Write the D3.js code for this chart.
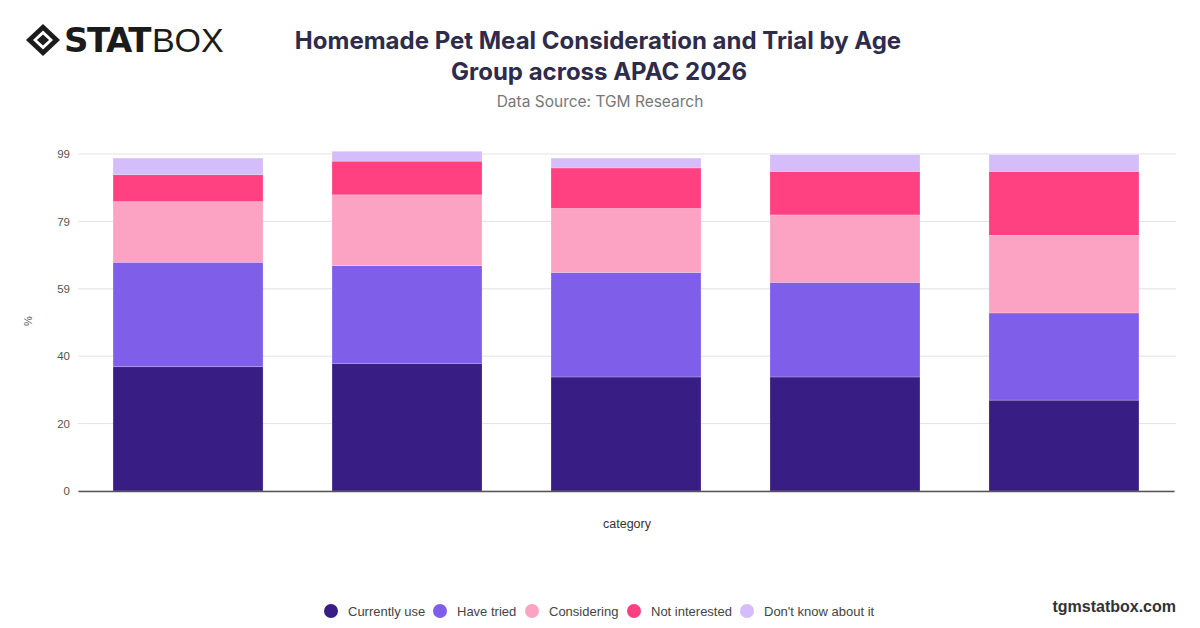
<!DOCTYPE html>
<html>
<head>
<meta charset="utf-8">
<script src="https://cdn.jsdelivr.net/npm/d3@7"></script>
<style>
  body { margin: 0; background: #fff; }
  svg { display: block; font-family: Inter, "Noto Sans", sans-serif; }
</style>
</head>
<body>
<div id="container"></div>
<script>
// Chart data
var categories = ["g1", "g2", "g3", "g4", "g5"];
var seriesNames = ["Currently use", "Have tried", "Considering", "Not interested", "Don't know about it"];
var currentlyUse  = [36.5, 37.5, 33.5, 33.5, 26.7];
var haveTried     = [30.7, 28.7, 30.7, 27.8, 25.6];
var considering   = [17.8, 20.8, 18.8, 19.8, 22.8];
var notInterested = [7.9, 9.9, 11.9, 12.8, 18.8];
var dontKnow      = [4.9, 2.9, 2.9, 4.9, 4.9];
var yTicks = [0, 19.8, 39.6, 59.4, 79.2, 99];
var colors = ["#381e84", "#7f5fea", "#fca3c3", "#ff4081", "#d5bcfa"];

var W = 1200, H = 628;
var svg = d3.select("div#container")
  .append("svg")
  .attr("width", W)
  .attr("height", H);

// Build rows for the stack
var seriesValues = [currentlyUse, haveTried, considering, notInterested, dontKnow];
var rows = categories.map(function(c, i) {
  var r = {category: c};
  seriesNames.forEach(function(s, j) { r[s] = seriesValues[j][i]; });
  return r;
});
var stacked = d3.stack().keys(seriesNames)(rows);

var x = d3.scaleBand()
  .domain(categories)
  .range([78, 1174])
  .paddingInner(0.315)
  .paddingOuter(0.16);
var y = d3.scaleLinear().domain([0, 99]).range([491, 154]);

// Gridlines
svg.append("g")
  .selectAll("line")
  .data(yTicks)
  .enter().append("line")
  .attr("x1", 78).attr("x2", 1176)
  .attr("y1", function(d) { return y(d); })
  .attr("y2", function(d) { return y(d); })
  .attr("stroke", "#e2e2e2")
  .attr("stroke-width", 1);

// y axis labels
var yAxis = svg.append("g")
  .attr("transform", "translate(78,0)")
  .call(d3.axisLeft(y).tickValues(yTicks).tickSize(0).tickPadding(8)
    .tickFormat(function(d) { return Math.round(d); }));
yAxis.select(".domain").remove();
yAxis.selectAll("text")
  .attr("fill", "#555")
  .style("font-size", "11.5px")
  .style("font-family", "'Liberation Sans', sans-serif");

// Bars
svg.append("g")
  .selectAll("g")
  .data(stacked)
  .enter().append("g")
  .attr("fill", function(d, i) { return colors[i]; })
  .selectAll("rect")
  .data(function(d) { return d; })
  .enter().append("rect")
  .attr("x", function(d) { return x(d.data.category); })
  .attr("width", x.bandwidth())
  .attr("y", function(d) { return y(d[1]); })
  .attr("height", function(d) { return y(d[0]) - y(d[1]); })
  .attr("stroke", "#fff")
  .attr("stroke-opacity", 0.35)
  .attr("stroke-width", 0.6);

// x axis baseline
var xAxis = svg.append("g")
  .attr("transform", "translate(0,491)")
  .call(d3.axisBottom(x).tickSize(0).tickFormat(function() { return ""; }));
xAxis.select(".domain").attr("stroke", "#555").attr("stroke-width", 1.3);

// Axis titles
svg.append("text")
  .attr("x", 627).attr("y", 528)
  .attr("text-anchor", "middle")
  .attr("fill", "#333")
  .style("font-size", "12.5px")
  .style("font-family", "'Liberation Sans', sans-serif")
  .text("category");

svg.append("text")
  .attr("transform", "translate(32,321) rotate(-90)")
  .attr("text-anchor", "middle")
  .attr("fill", "#555")
  .style("font-size", "11px")
  .style("font-family", "'Liberation Sans', sans-serif")
  .text("%");

// Title and subtitle
svg.append("text")
  .attr("x", 598).attr("y", 49)
  .attr("text-anchor", "middle")
  .attr("fill", "#2e2b4b")
  .style("font-size", "24px")
  .style("font-weight", "700")
  .text("Homemade Pet Meal Consideration and Trial by Age");
svg.append("text")
  .attr("x", 599).attr("y", 80)
  .attr("text-anchor", "middle")
  .attr("fill", "#2e2b4b")
  .style("font-size", "24px")
  .style("font-weight", "700")
  .text("Group across APAC 2026");
svg.append("text")
  .attr("x", 600).attr("y", 107)
  .attr("text-anchor", "middle")
  .attr("fill", "#777")
  .style("font-size", "15.5px")
  .text("Data Source: TGM Research");

// Logo
var logo = svg.append("g").attr("transform", "translate(43,40)");
logo.append("path")
  .attr("d", "M-17,0 L0,-16 L17,0 L0,16 Z")
  .attr("fill", "#1b1b1b");
logo.append("path")
  .attr("d", "M-10,0 L0,-9.5 L10,0 L0,9.5 Z")
  .attr("fill", "#fff");
logo.append("path")
  .attr("d", "M-6,0 L0,-5.5 L6,0 L0,5.5 Z")
  .attr("fill", "#1b1b1b");
var logoText = svg.append("text")
  .attr("x", 64).attr("y", 52)
  .attr("fill", "#1b1b1b")
  .style("font-size", "34px")
  .style("font-family", "'DejaVu Sans', sans-serif");
logoText.append("tspan").style("font-weight", "900").attr("letter-spacing", "-1.5").text("STAT");
logoText.append("tspan").style("font-weight", "300").style("font-family", "'Liberation Sans', sans-serif").attr("dx", 2).text("BOX");

// Legend
var legendX = [331, 440, 532, 634, 747];
var legend = svg.append("g")
  .selectAll("g")
  .data(seriesNames)
  .enter().append("g")
  .attr("transform", function(d, i) { return "translate(" + legendX[i] + ",611)"; });
legend.append("circle")
  .attr("r", 7)
  .attr("fill", function(d, i) { return colors[i]; });
legend.append("text")
  .attr("x", 17).attr("dy", "0.35em")
  .attr("fill", "#444")
  .style("font-size", "13px")
  .style("font-family", "'Liberation Sans', sans-serif")
  .text(function(d) { return d; });

svg.append("text")
  .attr("x", 1176).attr("y", 612)
  .attr("text-anchor", "end")
  .attr("fill", "#333")
  .style("font-size", "16px")
  .style("font-weight", "700")
  .style("font-family", "'Liberation Sans', sans-serif")
  .text("tgmstatbox.com");
</script>
</body>
</html>
